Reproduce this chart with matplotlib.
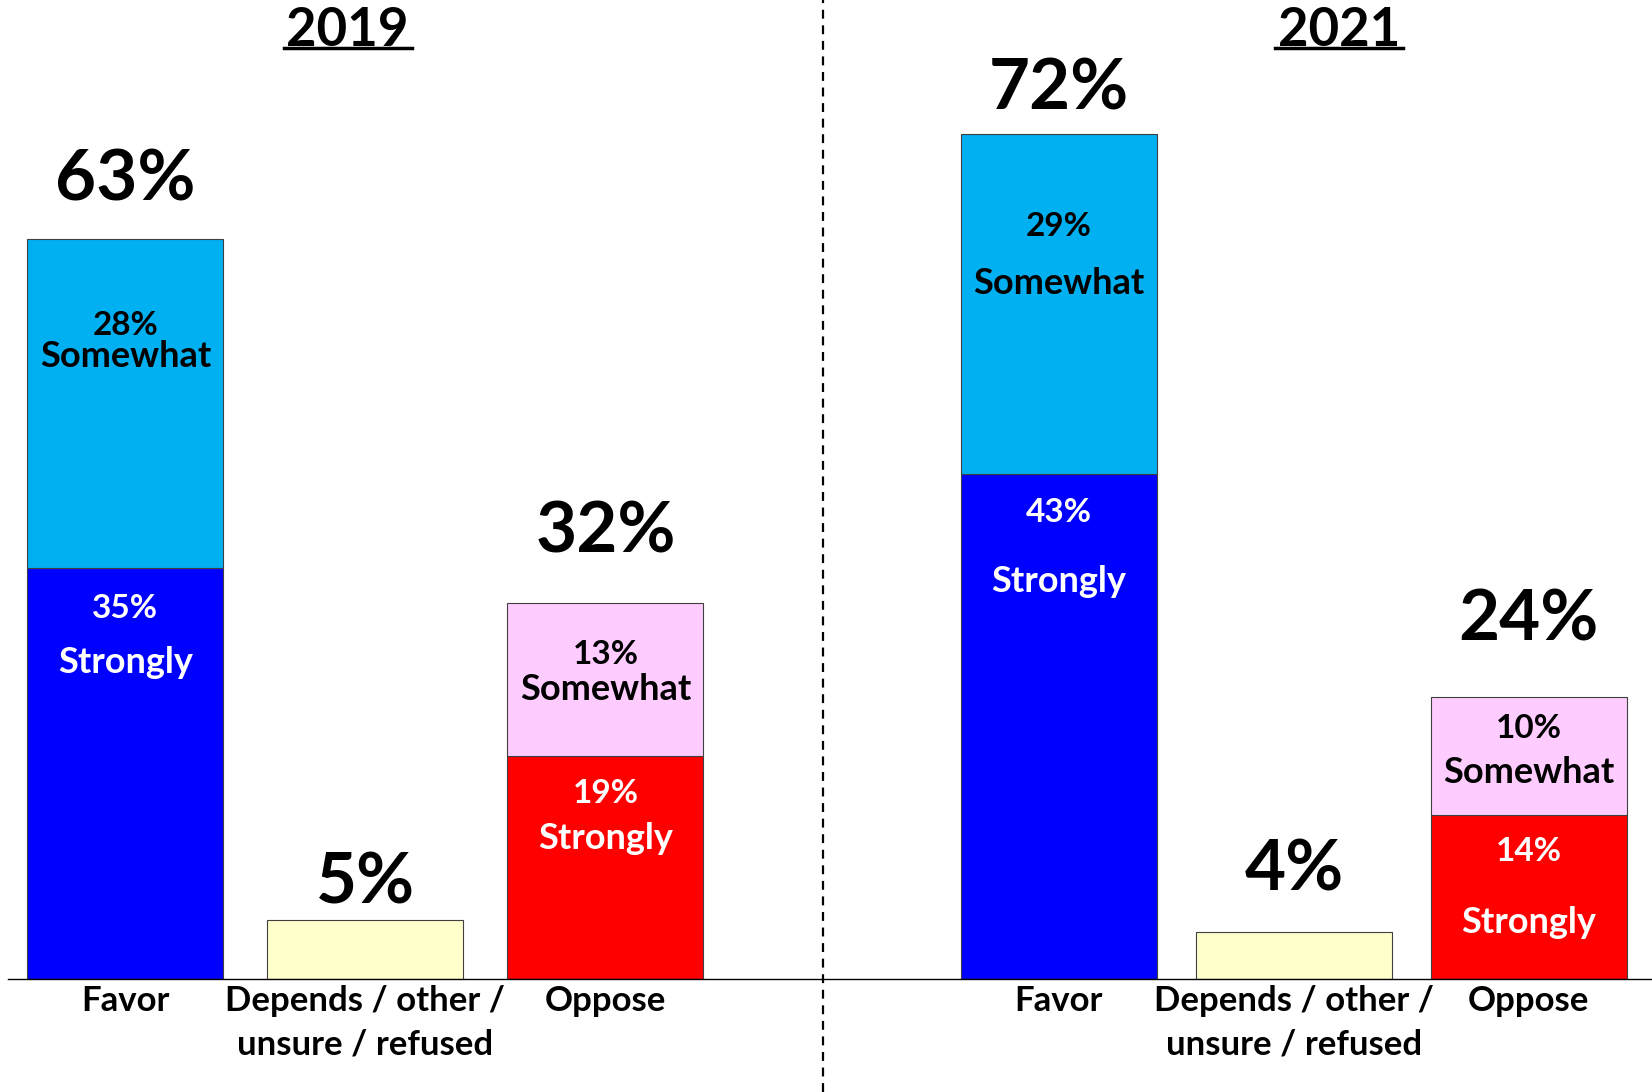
import matplotlib.pyplot as plt
from matplotlib.lines import Line2D

plt.rcParams['font.family'] = ['Lato', 'DejaVu Sans']
plt.rcParams['font.weight'] = 'bold'

years = ['2019', '2021']
categories = ['Favor', 'Depends / other /\nunsure / refused', 'Oppose']
totals = {'2019': [63, 5, 32], '2021': [72, 4, 24]}
strongly = {'2019': [35, 0, 19], '2021': [43, 0, 14]}
somewhat = {'2019': [28, 0, 13], '2021': [29, 0, 10]}

# label layout (y in data units) for segment labels: (pct, word)
somewhat_pos = {'2019': {0: (55.7, 53.0), 2: (27.6, 24.7)},
                '2021': {0: (64.1, 59.2), 2: (21.3, 17.6)}}
strongly_pos = {'2019': {0: (31.6, 27.0), 2: (15.8, 12.0)},
                '2021': {0: (39.7, 33.9), 2: (10.9, 4.8)}}
total_pos = {'2019': [68.1, 8.2, 38.1], '2021': [75.8, 9.3, 30.6]}

strong_colors = ['#0000FF', '#FFFFCC', '#FF0000']
some_colors = ['#00B0F0', '#FFFFCC', '#FFCCFF']

W, H = 1652, 1092
fig = plt.figure(figsize=(W / 100, H / 100), dpi=100)

base = 979
ymax = base / 11.74
panels = {'2019': dict(x0=8, x1=823, step=240, c0=125.4),
          '2021': dict(x0=823, x1=1652, step=235, c0=1058.9)}

for yr in years:
    p = panels[yr]
    ax = fig.add_axes([p['x0'] / W, (H - base) / H, (p['x1'] - p['x0']) / W, base / H])
    xs = range(len(categories))
    bw = 196 / p['step']
    ax.bar(xs, strongly[yr], width=bw, color=strong_colors, edgecolor='#404040', linewidth=0.8)
    ax.bar(xs, somewhat[yr], bottom=strongly[yr], width=bw, color=some_colors,
           edgecolor='#404040', linewidth=0.8)
    # depends bar drawn on its own
    dep = [totals[yr][i] if strongly[yr][i] == 0 else 0 for i in xs]
    ax.bar(xs, dep, width=bw, color='#FFFFCC', edgecolor='#404040', linewidth=0.8)

    ax.set_xlim((p['x0'] - p['c0']) / p['step'], (p['x1'] - p['c0']) / p['step'])
    ax.set_ylim(0, ymax)
    for s in ['left', 'right', 'top']:
        ax.spines[s].set_visible(False)
    ax.spines['bottom'].set_linewidth(1.0)
    ax.set_yticks([])
    ax.set_xticks(list(xs))
    ax.set_xticklabels(categories, fontsize=25, fontweight='bold', linespacing=1.45)
    ax.tick_params(axis='x', length=0, pad=4)

    for i in xs:
        ax.text(i, total_pos[yr][i], f'{totals[yr][i]}%', ha='center', va='center',
                fontsize=51, fontweight='bold')
        if i in somewhat_pos[yr]:
            a, b = somewhat_pos[yr][i]
            ax.text(i, a, f'{somewhat[yr][i]}%', ha='center', va='center', fontsize=24)
            ax.text(i, b, 'Somewhat', ha='center', va='center', fontsize=26)
            a, b = strongly_pos[yr][i]
            ax.text(i, a, f'{strongly[yr][i]}%', ha='center', va='center', fontsize=24, color='white')
            ax.text(i, b, 'Strongly', ha='center', va='center', fontsize=26, color='white')

    cx = 347.7 if yr == '2019' else 1339
    t = fig.text(cx / W, 1 - 30 / H, yr, ha='center', va='center', fontsize=38, fontweight='bold')

# underline under titles
for cx, hw in [(347.7, 64), (1339, 64)]:
    fig.add_artist(Line2D([(cx - hw) / W, (cx + hw) / W], [1 - 48 / H] * 2, color='black', lw=2.5))

fig.add_artist(Line2D([823 / W, 823 / W], [0, 1], color='black', lw=1.6, linestyle=(0, (4, 3))))

fig.savefig('out.png', dpi=100)
